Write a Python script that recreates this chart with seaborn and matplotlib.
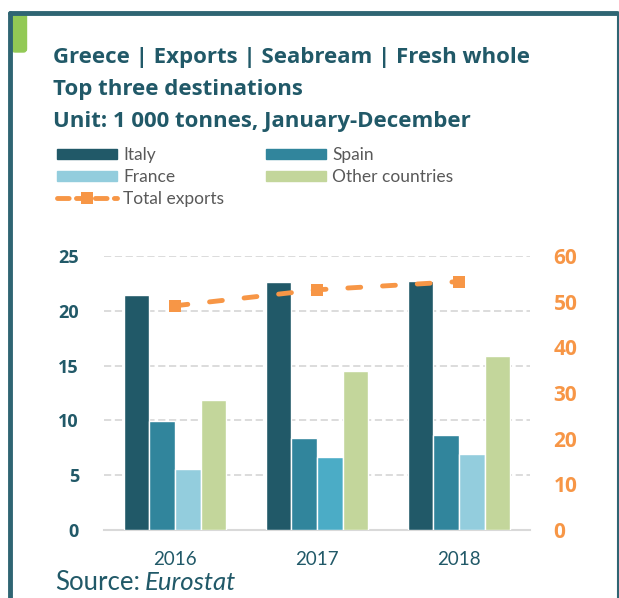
import numpy as np
import pandas as pd
import seaborn as sns
import matplotlib.pyplot as plt
from matplotlib.lines import Line2D
from matplotlib.patches import Patch, FancyBboxPatch

years = ["2016", "2017", "2018"]
countries = ["Italy", "Spain", "France", "Other countries"]
italy = [21.4, 22.6, 22.7]
spain = [9.9, 8.4, 8.7]
france = [5.6, 6.7, 6.9]
other = [11.9, 14.5, 15.9]
total = [49.1, 52.6, 54.4]
left_ticks = [0, 5, 10, 15, 20, 25]
right_ticks = [0, 10, 20, 30, 40, 50, 60]

colors = {"Italy": "#215968", "Spain": "#31859C",
          "France": "#93CDDD", "Other countries": "#C3D69B"}
orange = "#F79646"
teal = "#215968"

df = pd.DataFrame({
    "year": years * 4,
    "country": sum([[c] * 3 for c in countries], []),
    "value": italy + spain + france + other,
})

sns.set_theme(style="white")
plt.rcParams["font.family"] = ["Lato", "DejaVu Sans"]

W, H = 619, 598
fig = plt.figure(figsize=(W / 100, H / 100), dpi=100)
ax = fig.add_axes([104 / W, 1 - 530 / H, 426 / W, 274 / H])

sns.barplot(data=df, x="year", y="value", hue="country", hue_order=countries,
            palette=colors, width=0.72, gap=0, edgecolor="white", linewidth=1,
            saturation=1, legend=False, ax=ax, zorder=3)
# France 2017 is drawn a shade brighter in the original
ax.containers[2][1].set_facecolor("#4BACC6")

ax.set_ylim(0, 25)
ax.set_xlim(-0.5, 2.5)
ax.set_yticks(left_ticks, labels=[str(v) for v in left_ticks])
ax.yaxis.grid(True, color="#D9D9D9", linestyle=(0, (4, 2)), linewidth=1.3, zorder=0)
for s in ["top", "right", "left"]:
    ax.spines[s].set_visible(False)
ax.spines["bottom"].set_color("#D9D9D9")
ax.spines["bottom"].set_linewidth(1.5)
ax.set_xlabel("")
ax.set_ylabel("")
ax.tick_params(axis="y", length=0, pad=18)
ax.tick_params(axis="x", length=0, pad=15, labelsize=13.5, labelcolor=teal)

ax2 = ax.twinx()
sns.lineplot(x=[0, 1, 2], y=total, ax=ax2, color=orange, linewidth=3.5,
             marker="s", markersize=8.5, markeredgewidth=0,
             dashes=False, zorder=4)
ax2.lines[0].set_linestyle((0, (2.65, 4.5)))
ax2.lines[0].set_dash_capstyle("round")
ax2.set_ylim(0, 60)
ax2.set_yticks(right_ticks, labels=[str(v) for v in right_ticks])
for s in ["top", "right", "left", "bottom"]:
    ax2.spines[s].set_visible(False)
ax2.tick_params(axis="y", length=0, pad=17)
ax2.set_ylabel("")

# titles
for i, line in enumerate(["Greece | Exports | Seabream | Fresh whole",
                          "Top three destinations",
                          "Unit: 1 000 tonnes, January-December"]):
    fig.text(53 / W, 1 - (63 + i * 32) / H, line, fontsize=16, fontweight="bold",
             color=teal, va="baseline", ha="left", family="Open Sans")

# legend
handles = [
    Patch(color=colors["Italy"]), Patch(color=colors["France"]),
    Line2D([], [], color=orange, linewidth=3.5, linestyle=(0, (2.4, 1.5)),
           marker="s", markersize=8, markeredgewidth=0,
           dash_capstyle="round"),
    Patch(color=colors["Spain"]), Patch(color=colors["Other countries"]),
]
labels = ["Italy", "France", "Total exports", "Spain", "Other countries"]
fig.legend(handles, labels, loc="upper left", bbox_to_anchor=(50 / W, 1 - 140 / H),
           ncol=2, frameon=False, fontsize=12.5, labelcolor="#595959",
           handlelength=3.45, handleheight=0.55, handletextpad=0.35,
           columnspacing=2.45, labelspacing=0.35, borderaxespad=0)

# source
src = fig.text(55 / W, 1 - 582 / H, "Source:", fontsize=18.5, color=teal, va="center")
fig.canvas.draw()
bb = src.get_window_extent()
fig.text(bb.x1 / W + 5 / W, 1 - 582 / H, "Eurostat", fontsize=18.5, color=teal,
         va="center", style="italic")

# tick label fonts, set after the draw so they stick
for t in ax.get_yticklabels():
    t.set_family("Open Sans")
    t.set_fontweight("bold")
    t.set_fontsize(13)
    t.set_color(teal)
for t in ax2.get_yticklabels():
    t.set_family("Open Sans")
    t.set_fontweight("bold")
    t.set_fontsize(15)
    t.set_color(orange)

# frame
frame = "#2F6573"
fig.add_artist(Line2D([9.5 / W, 617 / W], [1 - 12.5 / H, 1 - 12.5 / H], color=frame, lw=3.5))
fig.add_artist(Line2D([9.5 / W, 9.5 / W], [1 - 12.5 / H, 0], color=frame, lw=3.5))
fig.add_artist(Line2D([617.5 / W, 617.5 / W], [1 - 12.5 / H, 0], color=frame, lw=1.5))
fig.add_artist(FancyBboxPatch((12 / W, 1 - 52 / H), 14.5 / W, 39 / H,
                              boxstyle="round,pad=0,rounding_size=0.005",
                              transform=fig.transFigure, color="#92C955"))

plt.savefig("out.png", dpi=100)
plt.close()
